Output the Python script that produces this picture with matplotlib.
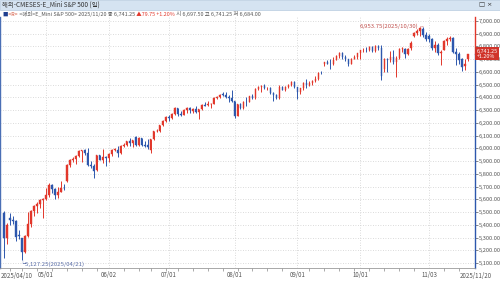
import matplotlib
matplotlib.use("Agg")
import matplotlib.pyplot as plt
from matplotlib.patches import Rectangle
import pandas as pd

dates = [
    "2025/04/10", "2025/04/11", "2025/04/14", "2025/04/15", "2025/04/16", "2025/04/17", "2025/04/21",
    "2025/04/22", "2025/04/23", "2025/04/24", "2025/04/25", "2025/04/28", "2025/04/29", "2025/04/30",
    "2025/05/01", "2025/05/02", "2025/05/05", "2025/05/06", "2025/05/07", "2025/05/08", "2025/05/09",
    "2025/05/12", "2025/05/13", "2025/05/14", "2025/05/15", "2025/05/16", "2025/05/19", "2025/05/20",
    "2025/05/21", "2025/05/22", "2025/05/23", "2025/05/27", "2025/05/28", "2025/05/29", "2025/05/30",
    "2025/06/02", "2025/06/03", "2025/06/04", "2025/06/05", "2025/06/06", "2025/06/09", "2025/06/10",
    "2025/06/11", "2025/06/12", "2025/06/13", "2025/06/16", "2025/06/17", "2025/06/18", "2025/06/20",
    "2025/06/23", "2025/06/24", "2025/06/25", "2025/06/26", "2025/06/27", "2025/06/30",
    "2025/07/01", "2025/07/02", "2025/07/03", "2025/07/07", "2025/07/08", "2025/07/09", "2025/07/10",
    "2025/07/11", "2025/07/14", "2025/07/15", "2025/07/16", "2025/07/17", "2025/07/18", "2025/07/21",
    "2025/07/22", "2025/07/23", "2025/07/24", "2025/07/25", "2025/07/28", "2025/07/29", "2025/07/30",
    "2025/07/31",
    "2025/08/01", "2025/08/04", "2025/08/05", "2025/08/06", "2025/08/07", "2025/08/08", "2025/08/11",
    "2025/08/12", "2025/08/13", "2025/08/14", "2025/08/15", "2025/08/18", "2025/08/19", "2025/08/20",
    "2025/08/21", "2025/08/22", "2025/08/25", "2025/08/26", "2025/08/27", "2025/08/28", "2025/08/29",
    "2025/09/02", "2025/09/03", "2025/09/04", "2025/09/05", "2025/09/08", "2025/09/09", "2025/09/10",
    "2025/09/11", "2025/09/12", "2025/09/15", "2025/09/16", "2025/09/17", "2025/09/18", "2025/09/19",
    "2025/09/22", "2025/09/23", "2025/09/24", "2025/09/25", "2025/09/26", "2025/09/29", "2025/09/30",
    "2025/10/01", "2025/10/02", "2025/10/03", "2025/10/06", "2025/10/07", "2025/10/08", "2025/10/09",
    "2025/10/10", "2025/10/13", "2025/10/14", "2025/10/15", "2025/10/16", "2025/10/17", "2025/10/20",
    "2025/10/21", "2025/10/22", "2025/10/23", "2025/10/24", "2025/10/27", "2025/10/28", "2025/10/29",
    "2025/10/30", "2025/10/31",
    "2025/11/03", "2025/11/04", "2025/11/05", "2025/11/06", "2025/11/07", "2025/11/10", "2025/11/11",
    "2025/11/12", "2025/11/13", "2025/11/14", "2025/11/17", "2025/11/18", "2025/11/19", "2025/11/20",
]

opens = [
    5490, 5300, 5450, 5440, 5430, 5320, 5295, 5185, 5315, 5405, 5510, 5550, 5560, 5595,
    5600, 5630, 5715, 5680, 5635, 5660, 5690, 5740, 5870, 5910, 5915, 5940, 5980, 5985, 5965, 5870,
    5865, 5830, 5945, 5910, 5930,
    5925, 5955, 5990, 5990, 5960, 6020, 6025, 6055, 6040, 6090, 6025, 6080, 6025, 6030, 5990, 6070,
    6135, 6135, 6180, 6215,
    6245, 6240, 6270, 6315, 6270, 6265, 6300, 6320, 6290, 6310, 6285, 6305, 6340, 6340, 6345, 6350,
    6395, 6400, 6430, 6420, 6400, 6395,
    6370, 6255, 6345, 6320, 6365, 6365, 6410, 6395, 6465, 6485, 6490, 6470, 6470, 6435, 6420, 6395,
    6485, 6460, 6485, 6500, 6520,
    6480, 6440, 6470, 6515, 6495, 6510, 6530, 6545, 6595, 6660, 6675, 6665, 6660, 6695, 6725, 6750,
    6715, 6700, 6665, 6705, 6720,
    6745, 6770, 6770, 6770, 6795, 6765, 6805, 6790, 6620, 6700, 6690, 6715, 6675, 6710, 6780, 6780,
    6740, 6785, 6880, 6905, 6920, 6935, 6890,
    6880, 6860, 6790, 6815, 6745, 6775, 6845, 6860, 6865, 6760, 6740, 6700, 6650, 6697.5,
]

highs = [
    5505, 5415, 5495, 5470, 5440, 5360, 5300, 5320, 5500, 5515, 5555, 5580, 5605, 5610,
    5690, 5725, 5720, 5685, 5695, 5745, 5720, 5880, 5920, 5930, 5945, 5985, 5990, 5995, 6000, 5900,
    5880, 5950, 5950, 5995, 5940,
    5960, 5995, 6005, 6020, 6030, 6040, 6060, 6080, 6065, 6095, 6090, 6085, 6060, 6070, 6075, 6140,
    6150, 6185, 6220, 6250,
    6265, 6275, 6325, 6320, 6290, 6310, 6325, 6325, 6320, 6335, 6310, 6345, 6360, 6370, 6355, 6400,
    6410, 6425, 6440, 6445, 6420, 6455,
    6375, 6350, 6355, 6375, 6400, 6410, 6425, 6470, 6490, 6495, 6505, 6480, 6480, 6440, 6430, 6495,
    6490, 6490, 6505, 6525, 6525,
    6485, 6475, 6520, 6545, 6525, 6535, 6570, 6600, 6610, 6680, 6690, 6700, 6715, 6730, 6755, 6760,
    6735, 6705, 6710, 6735, 6750,
    6775, 6790, 6795, 6800, 6805, 6810, 6815, 6810, 6710, 6710, 6765, 6770, 6725, 6785, 6795, 6790,
    6790, 6840, 6915, 6935, 6950, 6953.75, 6915,
    6895, 6865, 6840, 6830, 6770, 6850, 6870, 6880, 6870, 6790, 6760, 6710, 6700, 6741.25,
]

lows = [
    5140, 5250, 5400, 5405, 5275, 5285, 5127.25, 5180, 5305, 5385, 5470, 5495, 5535, 5450,
    5595, 5620, 5650, 5600, 5610, 5655, 5670, 5735, 5855, 5890, 5875, 5930, 5890, 5950, 5865, 5845,
    5770, 5820, 5905, 5885, 5860,
    5890, 5940, 5980, 5935, 5955, 6010, 6015, 6020, 6010, 6015, 6020, 6020, 6010, 5995, 5960, 6065,
    6125, 6130, 6175, 6210,
    6215, 6230, 6265, 6255, 6255, 6260, 6280, 6275, 6280, 6280, 6230, 6300, 6330, 6335, 6320, 6345,
    6385, 6395, 6410, 6395, 6365, 6365,
    6240, 6250, 6310, 6310, 6335, 6360, 6385, 6385, 6460, 6445, 6465, 6455, 6425, 6370, 6385, 6390,
    6455, 6450, 6475, 6490, 6470,
    6390, 6430, 6455, 6475, 6490, 6495, 6520, 6540, 6585, 6650, 6660, 6620, 6655, 6690, 6710, 6705,
    6685, 6650, 6660, 6700, 6700,
    6700, 6755, 6755, 6765, 6760, 6760, 6770, 6540, 6600, 6600, 6680, 6660, 6560, 6705, 6760, 6710,
    6735, 6775, 6875, 6890, 6880, 6870, 6845,
    6835, 6770, 6760, 6735, 6655, 6770, 6815, 6840, 6745, 6655, 6665, 6610, 6615, 6684,
]

closes = [
    5300, 5395, 5440, 5430, 5305, 5310, 5185, 5315, 5405, 5510, 5550, 5560, 5595, 5600,
    5630, 5715, 5680, 5635, 5660, 5690, 5685, 5870, 5910, 5915, 5940, 5980, 5985, 5965, 5870, 5865,
    5820, 5945, 5910, 5930, 5925,
    5955, 5990, 5995, 5960, 6020, 6025, 6055, 6040, 6065, 6025, 6080, 6025, 6020, 6010, 6070, 6135,
    6140, 6180, 6215, 6245,
    6240, 6270, 6320, 6270, 6265, 6300, 6320, 6300, 6310, 6285, 6305, 6340, 6335, 6345, 6350, 6395,
    6400, 6420, 6420, 6400, 6395, 6370,
    6255, 6345, 6320, 6365, 6360, 6410, 6395, 6465, 6485, 6490, 6470, 6475, 6435, 6420, 6395, 6485,
    6460, 6485, 6500, 6520, 6480,
    6440, 6470, 6515, 6495, 6510, 6530, 6545, 6595, 6590, 6675, 6665, 6660, 6695, 6725, 6750, 6715,
    6700, 6665, 6705, 6720, 6745,
    6770, 6775, 6768, 6795, 6765, 6805, 6790, 6570, 6700, 6690, 6715, 6675, 6710, 6780, 6785, 6740,
    6780, 6830, 6905, 6920, 6945, 6890, 6855,
    6860, 6790, 6815, 6745, 6760, 6845, 6860, 6865, 6760, 6740, 6690, 6640, 6661.5, 6741.25,
]

price_ticks = list(range(5100, 7001, 100))
month_labels = ["05/01", "06/02", "07/01", "08/01", "09/01", "10/01", "11/03"]
title = "해외-CMESES-E_Mini S&P 500 (일)"
name = "<해외>E_Mini S&P 500>"

RED = "#e2372b"
BLUE = "#2d57ad"
GRAY = "#555555"
GRID = "#cfcfcf"

plt.rcParams["font.family"] = ["Liberation Sans Narrow", "Noto Sans CJK KR", "DejaVu Sans"]

fig = plt.figure(figsize=(5, 2.83), dpi=100)
ax = fig.add_axes([0.0, 0.053, 0.95, 0.887])

n = len(dates)
xs = list(range(n))
colors = [RED if c >= o else BLUE for o, c in zip(opens, closes)]

# candles
ax.vlines(xs, lows, highs, colors=colors, linewidth=0.7, zorder=3)
ax.bar(xs, [c - o for o, c in zip(opens, closes)], bottom=opens, width=0.62,
       color=colors, edgecolor=colors, linewidth=0.3, zorder=4)

ax.set_xlim(-1.2, n + 1.2)
ax.set_ylim(5061, 7031)

# y axis on the right
ax.yaxis.tick_right()
ax.set_yticks(price_ticks)
ax.set_yticklabels([f"{v:,.2f}" for v in price_ticks])
ax.tick_params(axis="y", labelsize=4.1, colors=GRAY, length=2, pad=0.8, width=0.5)

# x axis: first trading day on/after each month label
month_idx = [next(i for i, s in enumerate(dates) if s >= "2025/" + m) for m in month_labels]
ax.set_xticks(month_idx)
ax.set_xticklabels(month_labels)
ax.tick_params(axis="x", labelsize=4.4, colors=GRAY, length=0, pad=2.5)

# weekly minor ticks
d = pd.to_datetime(dates, format="%Y/%m/%d")
weeks = d.isocalendar().week.values
week_starts = [i for i in range(1, n) if weeks[i] != weeks[i - 1]]
ax.set_xticks(week_starts, minor=True)
ax.tick_params(axis="x", which="minor", length=2, width=0.5, color="#888888")

ax.annotate(dates[0], xy=(0, 0), xycoords=("data", "axes fraction"), xytext=(-2, -2.8),
            textcoords="offset points", ha="left", va="top", fontsize=4.4, color=GRAY)
ax.annotate(dates[-1], xy=(n - 1, 0), xycoords=("data", "axes fraction"), xytext=(-6, -2.8),
            textcoords="offset points", ha="left", va="top", fontsize=4.4, color=GRAY,
            annotation_clip=False)

ax.grid(True, which="major", linestyle=(0, (1, 2)), color=GRID, linewidth=0.6)
ax.set_axisbelow(True)

for s in ["top", "right"]:
    ax.spines[s].set_visible(False)
ax.spines["left"].set_color("#4a6fb5")
ax.spines["left"].set_linewidth(1.0)
ax.spines["bottom"].set_color("#9a9a9a")
ax.spines["bottom"].set_linewidth(0.6)

# right edge line: red above last price, blue below
last = closes[-1]
prev = closes[-2]
ylo, yhi = ax.get_ylim()
frac = (last - ylo) / (yhi - ylo)
ax.axvline(n + 1.2, ymin=frac, ymax=1, color=RED, linewidth=1.0, clip_on=False)
ax.axvline(n + 1.2, ymin=0, ymax=frac, color=BLUE, linewidth=1.0, clip_on=False)

chg = last - prev
pct = chg / prev * 100
ax.annotate(f"{last:,.2f}\n+{pct:.2f}%", xy=(1, last), xycoords=("axes fraction", "data"),
            xytext=(1.2, 0), textcoords="offset points", ha="left", va="center",
            fontsize=3.9, color="white", linespacing=0.95, annotation_clip=False, zorder=10,
            bbox=dict(boxstyle="square,pad=0.3", fc="#d0342a", ec="none"))

# high / low markers
hi_i = highs.index(max(highs))
lo_i = lows.index(min(lows))
ax.annotate(f"{highs[hi_i]:,.2f}({dates[hi_i]})", xy=(hi_i, highs[hi_i]), xytext=(-4, 0.5),
            textcoords="offset points", ha="right", va="center", fontsize=4.3, color="#c0504d",
            arrowprops=dict(arrowstyle="-", color="#c0504d", lw=0.5, linestyle=":",
                            shrinkA=0, shrinkB=0))
ax.annotate(f"└{lows[lo_i]:,.2f}({dates[lo_i]})", xy=(lo_i, lows[lo_i]), xytext=(-1.5, -0.5),
            textcoords="offset points", ha="left", va="top", fontsize=4.3, color="#5b6fa8")

# title bar
fig.patches.append(Rectangle((0, 1 - 10 / 283), 1, 10 / 283, transform=fig.transFigure,
                             facecolor="#d5e3f1", edgecolor="#b8cbe0", linewidth=0.5))
fig.text(0.004, 1 - 5 / 283, title, fontsize=4.6, color="#333333", va="center", ha="left")
fig.text(0.985, 1 - 5 / 283, "□ ×", fontsize=4.6, color="#333333", va="center", ha="right",
         family="DejaVu Sans")

# info line
parts = [
    ("■", "#1f3f8f"),
    (" <R>", "#d0482f"),
    (f" {name} {dates[-1]} 종 {last:,.2f}", GRAY),
    (f" ▲{chg:,.2f} +{pct:.2f}%", RED),
    (f" 시 {opens[-1]:,.2f} 고 {highs[-1]:,.2f} 저 {lows[-1]:,.2f}", GRAY),
]
prev_t = fig.text(0.004, 1 - 14 / 283, parts[0][0], fontsize=3.9, color=parts[0][1],
                  va="center", ha="left")
for txt, col in parts[1:]:
    prev_t = ax.annotate(txt, xy=(1, 0.5), xycoords=prev_t, xytext=(0, 0),
                         textcoords="offset points", va="center", ha="left",
                         fontsize=3.9, color=col, annotation_clip=False)

fig.savefig("out.png", dpi=100)
